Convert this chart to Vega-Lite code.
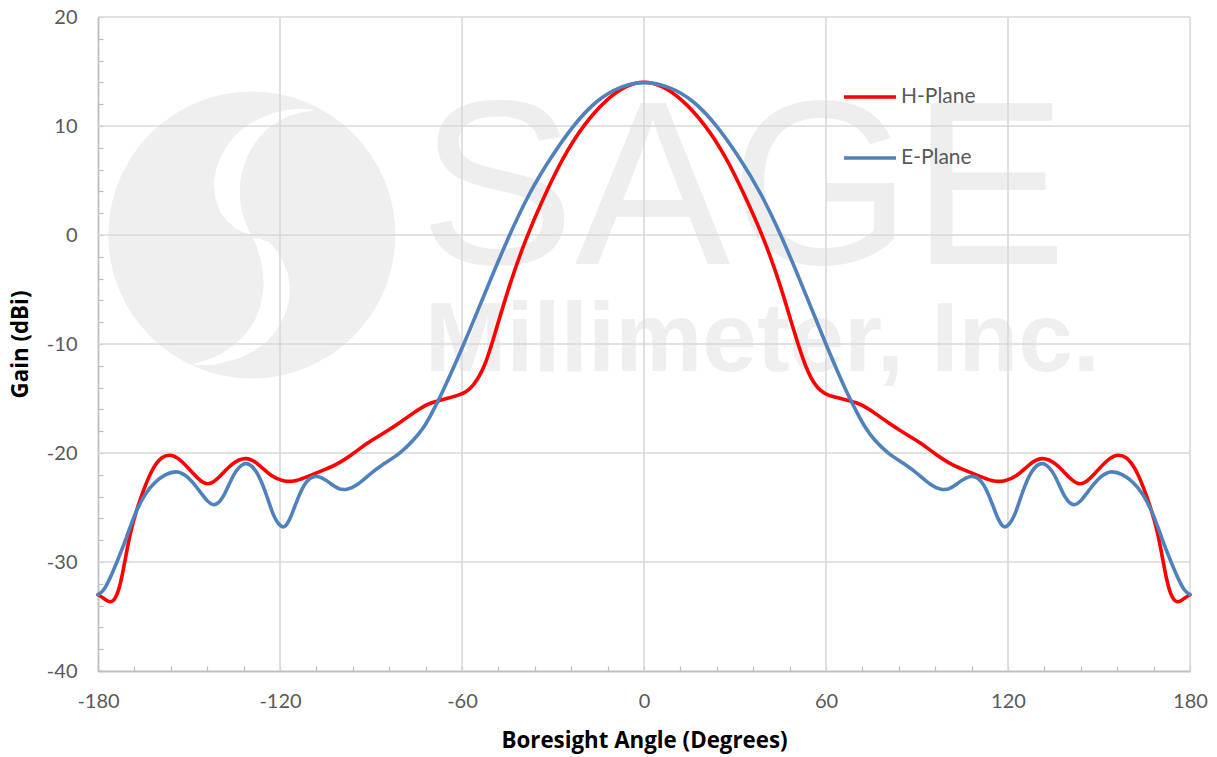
{"$schema":"https://vega.github.io/schema/vega-lite/v6.json","width":1092,"height":654,"autosize":{"type":"none"},"padding":{"left":98,"top":17,"right":27,"bottom":86},"background":"white","config":{"view":{"stroke":null},"font":"Lato"},
"datasets":{
"curves":[
{"s":"H-Plane","x":-180,"y":-33},{"s":"H-Plane","x":-178.2,"y":-33.3},{"s":"H-Plane","x":-175.5,"y":-33.9},{"s":"H-Plane","x":-173.3,"y":-32.9},{"s":"H-Plane","x":-171.6,"y":-30.7},{"s":"H-Plane","x":-169.5,"y":-27.4},{"s":"H-Plane","x":-167.3,"y":-25.2},{"s":"H-Plane","x":-164.5,"y":-23},{"s":"H-Plane","x":-161.8,"y":-21.3},{"s":"H-Plane","x":-159,"y":-20.3},{"s":"H-Plane","x":-155.7,"y":-20.1},{"s":"H-Plane","x":-152.4,"y":-20.7},{"s":"H-Plane","x":-148.6,"y":-21.9},{"s":"H-Plane","x":-145.3,"y":-22.8},{"s":"H-Plane","x":-143.3,"y":-22.9},{"s":"H-Plane","x":-140.3,"y":-22.35},{"s":"H-Plane","x":-135.9,"y":-20.9},{"s":"H-Plane","x":-131,"y":-20.3},{"s":"H-Plane","x":-127.1,"y":-21},{"s":"H-Plane","x":-122.7,"y":-22.2},{"s":"H-Plane","x":-118.9,"y":-22.6},{"s":"H-Plane","x":-115.6,"y":-22.65},{"s":"H-Plane","x":-111.2,"y":-22.2},{"s":"H-Plane","x":-107.9,"y":-21.8},{"s":"H-Plane","x":-101.3,"y":-21.1},{"s":"H-Plane","x":-95.8,"y":-20.05},{"s":"H-Plane","x":-91.4,"y":-19.1},{"s":"H-Plane","x":-85.9,"y":-18.2},{"s":"H-Plane","x":-80.4,"y":-17.2},{"s":"H-Plane","x":-73.9,"y":-15.9},{"s":"H-Plane","x":-70.6,"y":-15.4},{"s":"H-Plane","x":-65,"y":-15},{"s":"H-Plane","x":-59.6,"y":-14.6},{"s":"H-Plane","x":-56.3,"y":-13.9},{"s":"H-Plane","x":-52.4,"y":-12.1},{"s":"H-Plane","x":-49.1,"y":-9},{"s":"H-Plane","x":-44.2,"y":-4.4},{"s":"H-Plane","x":-38.7,"y":-0.15},{"s":"H-Plane","x":-33.2,"y":3.4},{"s":"H-Plane","x":-26.6,"y":7.2},{"s":"H-Plane","x":-20,"y":10.1},{"s":"H-Plane","x":-12.3,"y":12.5},{"s":"H-Plane","x":-5.7,"y":13.75},{"s":"H-Plane","x":0,"y":14.15},{"s":"H-Plane","x":5.7,"y":13.75},{"s":"H-Plane","x":12.5,"y":12.5},{"s":"H-Plane","x":20.3,"y":10.1},{"s":"H-Plane","x":27,"y":7.2},{"s":"H-Plane","x":33.6,"y":3.4},{"s":"H-Plane","x":39.3,"y":-0.15},{"s":"H-Plane","x":44.8,"y":-4.4},{"s":"H-Plane","x":49.6,"y":-9},{"s":"H-Plane","x":53.3,"y":-12.2},{"s":"H-Plane","x":56.5,"y":-13.9},{"s":"H-Plane","x":60,"y":-14.7},{"s":"H-Plane","x":65,"y":-15},{"s":"H-Plane","x":70.6,"y":-15.4},{"s":"H-Plane","x":73.9,"y":-15.9},{"s":"H-Plane","x":80.4,"y":-17.2},{"s":"H-Plane","x":85.9,"y":-18.2},{"s":"H-Plane","x":91.4,"y":-19.1},{"s":"H-Plane","x":95.8,"y":-20.05},{"s":"H-Plane","x":101.3,"y":-21.1},{"s":"H-Plane","x":107.9,"y":-21.8},{"s":"H-Plane","x":111.2,"y":-22.2},{"s":"H-Plane","x":115.6,"y":-22.65},{"s":"H-Plane","x":118.9,"y":-22.6},{"s":"H-Plane","x":122.7,"y":-22.2},{"s":"H-Plane","x":127.1,"y":-21},{"s":"H-Plane","x":131,"y":-20.3},{"s":"H-Plane","x":135.9,"y":-20.9},{"s":"H-Plane","x":140.3,"y":-22.35},{"s":"H-Plane","x":143.3,"y":-22.9},{"s":"H-Plane","x":145.3,"y":-22.8},{"s":"H-Plane","x":148.6,"y":-21.9},{"s":"H-Plane","x":152.4,"y":-20.7},{"s":"H-Plane","x":155.7,"y":-20.1},{"s":"H-Plane","x":159,"y":-20.3},{"s":"H-Plane","x":161.8,"y":-21.3},{"s":"H-Plane","x":164.5,"y":-23},{"s":"H-Plane","x":167.3,"y":-25.2},{"s":"H-Plane","x":169.5,"y":-27.4},{"s":"H-Plane","x":171.6,"y":-30.7},{"s":"H-Plane","x":173.3,"y":-32.9},{"s":"H-Plane","x":175.5,"y":-33.9},{"s":"H-Plane","x":178.2,"y":-33.3},{"s":"H-Plane","x":180,"y":-33},
{"s":"E-Plane","x":-180,"y":-33},{"s":"E-Plane","x":-178.2,"y":-32.7},{"s":"E-Plane","x":-176,"y":-31.5},{"s":"E-Plane","x":-173.3,"y":-29.7},{"s":"E-Plane","x":-170.5,"y":-27.7},{"s":"E-Plane","x":-167.8,"y":-25.5},{"s":"E-Plane","x":-164.5,"y":-23.7},{"s":"E-Plane","x":-161.2,"y":-22.65},{"s":"E-Plane","x":-157.9,"y":-21.95},{"s":"E-Plane","x":-154,"y":-21.6},{"s":"E-Plane","x":-150.8,"y":-22.05},{"s":"E-Plane","x":-147.5,"y":-23.1},{"s":"E-Plane","x":-144.2,"y":-24.4},{"s":"E-Plane","x":-141.6,"y":-24.95},{"s":"E-Plane","x":-138.7,"y":-24.2},{"s":"E-Plane","x":-135.4,"y":-21.9},{"s":"E-Plane","x":-132.6,"y":-21.0},{"s":"E-Plane","x":-130.4,"y":-20.9},{"s":"E-Plane","x":-127.7,"y":-21.6},{"s":"E-Plane","x":-124.9,"y":-23.4},{"s":"E-Plane","x":-122.2,"y":-25.85},{"s":"E-Plane","x":-120,"y":-26.7},{"s":"E-Plane","x":-118.6,"y":-26.9},{"s":"E-Plane","x":-116.7,"y":-26.15},{"s":"E-Plane","x":-114,"y":-24},{"s":"E-Plane","x":-111.2,"y":-22.4},{"s":"E-Plane","x":-107.9,"y":-22},{"s":"E-Plane","x":-104.6,"y":-22.5},{"s":"E-Plane","x":-100.8,"y":-23.35},{"s":"E-Plane","x":-98,"y":-23.4},{"s":"E-Plane","x":-94.7,"y":-23},{"s":"E-Plane","x":-90.3,"y":-21.9},{"s":"E-Plane","x":-85.9,"y":-21},{"s":"E-Plane","x":-80.4,"y":-20.05},{"s":"E-Plane","x":-76,"y":-18.85},{"s":"E-Plane","x":-72.7,"y":-17.7},{"s":"E-Plane","x":-70.6,"y":-16.7},{"s":"E-Plane","x":-66.7,"y":-14.6},{"s":"E-Plane","x":-59.6,"y":-10.2},{"s":"E-Plane","x":-53,"y":-5.7},{"s":"E-Plane","x":-44.7,"y":-0.15},{"s":"E-Plane","x":-37.6,"y":4},{"s":"E-Plane","x":-31,"y":7},{"s":"E-Plane","x":-23.3,"y":10.1},{"s":"E-Plane","x":-15.6,"y":12.4},{"s":"E-Plane","x":-7.9,"y":13.65},{"s":"E-Plane","x":0,"y":14.15},{"s":"E-Plane","x":8.4,"y":13.65},{"s":"E-Plane","x":16.2,"y":12.4},{"s":"E-Plane","x":24,"y":10.1},{"s":"E-Plane","x":31.7,"y":7},{"s":"E-Plane","x":38.3,"y":4},{"s":"E-Plane","x":45.5,"y":-0.15},{"s":"E-Plane","x":53.7,"y":-5.7},{"s":"E-Plane","x":60.2,"y":-10.2},{"s":"E-Plane","x":67,"y":-14.6},{"s":"E-Plane","x":71,"y":-16.7},{"s":"E-Plane","x":73,"y":-17.7},{"s":"E-Plane","x":76,"y":-18.85},{"s":"E-Plane","x":80.4,"y":-20.05},{"s":"E-Plane","x":85.9,"y":-21},{"s":"E-Plane","x":90.3,"y":-21.9},{"s":"E-Plane","x":94.7,"y":-23},{"s":"E-Plane","x":98,"y":-23.4},{"s":"E-Plane","x":100.8,"y":-23.35},{"s":"E-Plane","x":104.6,"y":-22.5},{"s":"E-Plane","x":107.9,"y":-22},{"s":"E-Plane","x":111.2,"y":-22.4},{"s":"E-Plane","x":114,"y":-24},{"s":"E-Plane","x":116.7,"y":-26.15},{"s":"E-Plane","x":118.6,"y":-26.9},{"s":"E-Plane","x":120,"y":-26.7},{"s":"E-Plane","x":122.2,"y":-25.85},{"s":"E-Plane","x":124.9,"y":-23.4},{"s":"E-Plane","x":127.7,"y":-21.6},{"s":"E-Plane","x":130.4,"y":-20.9},{"s":"E-Plane","x":132.6,"y":-21},{"s":"E-Plane","x":135.4,"y":-21.9},{"s":"E-Plane","x":138.7,"y":-24.2},{"s":"E-Plane","x":141.6,"y":-24.95},{"s":"E-Plane","x":144.2,"y":-24.4},{"s":"E-Plane","x":147.5,"y":-23.1},{"s":"E-Plane","x":150.8,"y":-22.05},{"s":"E-Plane","x":154,"y":-21.6},{"s":"E-Plane","x":157.9,"y":-21.95},{"s":"E-Plane","x":161.2,"y":-22.65},{"s":"E-Plane","x":164.5,"y":-23.7},{"s":"E-Plane","x":167.8,"y":-25.5},{"s":"E-Plane","x":170.5,"y":-27.7},{"s":"E-Plane","x":173.3,"y":-29.7},{"s":"E-Plane","x":176,"y":-31.5},{"s":"E-Plane","x":178.2,"y":-32.7},{"s":"E-Plane","x":180,"y":-33}
],
"stripes":[
{"g":"a","o":1,"x":-109,"y":11.47,"w":1},{"g":"a","o":2,"x":-113.5,"y":11.4,"w":4},{"g":"a","o":3,"x":-117.8,"y":11.16,"w":7},{"g":"a","o":4,"x":-121.8,"y":10.75,"w":10},{"g":"a","o":5,"x":-125.5,"y":10.18,"w":13},{"g":"a","o":6,"x":-128.8,"y":9.5,"w":17},{"g":"a","o":7,"x":-131.6,"y":8.72,"w":20},{"g":"a","o":8,"x":-134,"y":7.75,"w":23},{"g":"a","o":9,"x":-135.7,"y":6.73,"w":25},{"g":"a","o":10,"x":-136.9,"y":5.75,"w":26},{"g":"a","o":11,"x":-137.5,"y":4.74,"w":26},{"g":"a","o":12,"x":-137.3,"y":3.65,"w":25},{"g":"a","o":13,"x":-136.5,"y":2.6,"w":22},{"g":"a","o":14,"x":-135.2,"y":1.8,"w":18},{"g":"a","o":15,"x":-133.5,"y":1.07,"w":13},{"g":"a","o":16,"x":-131.7,"y":0.55,"w":7},{"g":"a","o":17,"x":-129.9,"y":0.09,"w":1},
{"g":"b","o":1,"x":-128.8,"y":-0.3,"w":1},{"g":"b","o":2,"x":-126.8,"y":-0.7,"w":8},{"g":"b","o":3,"x":-125,"y":-1.22,"w":15},{"g":"b","o":4,"x":-123.4,"y":-2,"w":19},{"g":"b","o":5,"x":-122.2,"y":-2.9,"w":22},{"g":"b","o":6,"x":-121.4,"y":-3.8,"w":25},{"g":"b","o":7,"x":-121.1,"y":-4.74,"w":26},{"g":"b","o":8,"x":-121.4,"y":-5.8,"w":27},{"g":"b","o":9,"x":-122.4,"y":-6.88,"w":26},{"g":"b","o":10,"x":-124.2,"y":-8,"w":24},{"g":"b","o":11,"x":-126.6,"y":-9.02,"w":22},{"g":"b","o":12,"x":-130.2,"y":-9.95,"w":18},{"g":"b","o":13,"x":-134.3,"y":-10.7,"w":14},{"g":"b","o":14,"x":-138,"y":-11.2,"w":10},{"g":"b","o":15,"x":-142,"y":-11.6,"w":7},{"g":"b","o":16,"x":-148.6,"y":-11.9,"w":1}
]
},
"encoding":{
"x":{"field":"x","type":"quantitative","title":"Boresight Angle (Degrees)","scale":{"domain":[-180,180],"nice":false,"zero":false},"axis":{"values":[-180,-168,-156,-144,-132,-120,-108,-96,-84,-72,-60,-48,-36,-24,-12,0,12,24,36,48,60,72,84,96,108,120,132,144,156,168,180],"labelExpr":"datum.value % 60 === 0 ? '' + datum.value : ''","labelOverlap":false,"labelBound":false,"labelFlush":false,"grid":false,"domainColor":"#bfbfbf","domainWidth":1.8,"tickColor":"#bfbfbf","tickWidth":1.2,"tickSize":-5,"labelPadding":25,"labelFont":"Lato","labelFontSize":20,"labelColor":"#595959","labelFontWeight":"normal","titleFont":"Open Sans","titleFontSize":22.3,"titleFontWeight":"bold","titleColor":"#000000","titlePadding":18}},
"y":{"field":"y","type":"quantitative","title":"Gain (dBi)","scale":{"domain":[-40,20],"nice":false,"zero":false},"axis":{"values":[-40,-38,-36,-34,-32,-30,-28,-26,-24,-22,-20,-18,-16,-14,-12,-10,-8,-6,-4,-2,0,2,4,6,8,10,12,14,16,18,20],"labelExpr":"datum.value % 10 === 0 ? '' + datum.value : ''","labelOverlap":false,"labelBound":false,"labelFlush":false,"grid":false,"domainColor":"#bfbfbf","domainWidth":1.8,"tickColor":"#bfbfbf","tickWidth":1.2,"tickSize":-5,"labelPadding":26,"labelFont":"Lato","labelFontSize":20,"labelColor":"#595959","titleFont":"Open Sans","titleFontSize":22.3,"titleFontWeight":"bold","titleColor":"#000000","titlePadding":14}}
},
"layer":[
{"data":{"values":[{"x":-129.3,"y":0}]},"mark":{"type":"point","shape":"circle","filled":true,"opacity":1,"color":"#efefef","size":82400}},
{"data":{"name":"stripes"},"mark":{"type":"trail","color":"white"},"encoding":{"detail":{"field":"g"},"order":{"field":"o","type":"quantitative"},"size":{"field":"w","type":"quantitative","scale":null}}},
{"data":{"values":[{"x":-74,"y":-2.7,"t":"SAGE"}]},"mark":{"type":"text","font":"Liberation Sans","fontSize":233,"align":"left","baseline":"alphabetic","color":"#eeeeee"},"encoding":{"text":{"field":"t"}}},
{"data":{"values":[{"x":-72.3,"y":-12.5,"t":"Millimeter, Inc."}]},"mark":{"type":"text","font":"Liberation Sans","fontWeight":"bold","fontSize":98,"align":"left","baseline":"alphabetic","color":"#efefef"},"encoding":{"text":{"field":"t"}}},
{"data":{"values":[{"x":-120,"y":-40,"y2":20},{"x":-60,"y":-40,"y2":20},{"x":0,"y":-40,"y2":20},{"x":60,"y":-40,"y2":20},{"x":120,"y":-40,"y2":20},{"x":180,"y":-40,"y2":20}]},"mark":{"type":"rule","color":"#d9d9d9","strokeWidth":1.6},"encoding":{"y2":{"field":"y2"}}},
{"data":{"values":[{"x":-180,"x2":180,"y":-30},{"x":-180,"x2":180,"y":-20},{"x":-180,"x2":180,"y":-10},{"x":-180,"x2":180,"y":0},{"x":-180,"x2":180,"y":10},{"x":-180,"x2":180,"y":20}]},"mark":{"type":"rule","color":"#d9d9d9","strokeWidth":1.6},"encoding":{"x2":{"field":"x2"}}},
{"data":{"name":"curves"},"mark":{"type":"line","interpolate":"basis","strokeWidth":3.6,"strokeCap":"round"},"encoding":{
"color":{"field":"s","type":"nominal","scale":{"domain":["H-Plane","E-Plane"],"range":["#ff0000","#4f81bd"]},"sort":null,"legend":{"orient":"none","legendX":744,"legendY":52,"title":null,"symbolType":"stroke","symbolSize":2700,"symbolStrokeWidth":3.6,"rowPadding":23,"labelFont":"Lato","labelFontSize":21,"labelColor":"#595959","labelOffset":3}}}}
]}
